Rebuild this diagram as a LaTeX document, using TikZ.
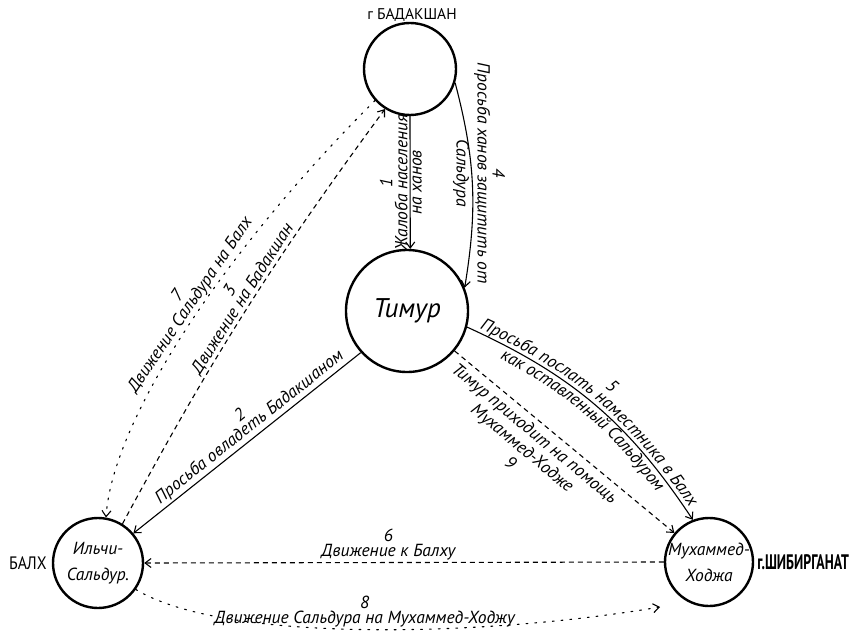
\documentclass[tikz,border=0pt]{standalone}
\usepackage{fontspec}
\setmainfont{PT Sans}
\newfontfamily\ortfont{PT Sans}[FakeStretch=0.88]
\newfontfamily\schmalfont{PT Sans}[FakeStretch=0.66]
\usepackage{tikz}
\usetikzlibrary{arrows.meta, positioning, decorations.text}

\tikzset{
  ort/.style={circle, draw, line width=2.4pt, inner sep=-10pt, align=center,
    font=\itshape\fontsize{17.5}{26}\selectfont},
  beschr/.style={font=\itshape\fontsize{17.5}{15}\selectfont, inner sep=2pt, align=center},
  pfeil/.style={line width=1.1pt, -{Straight Barb[length=6pt,width=9pt]}},
  gestrichelt/.style={pfeil, dash pattern=on 5pt off 4pt},
  gepunktet/.style={pfeil, dash pattern=on 1.8pt off 7pt, line cap=round},
  bogentext/.style={postaction={decorate, decoration={text along path, text align=center,
    raise=#1}}},
}

\begin{document}
\begin{tikzpicture}[x=1pt, y=-1pt]
  \useasboundingbox (0,0) rectangle (859,631);
  % Orte
  \node[ort, minimum size=92pt] (badakhshan) at (410,69) {};
  \node[ort, minimum size=122pt, font=\itshape\fontsize{27}{30}\selectfont] (timur) at (407,311) {Тимур};
  \node[ort, minimum size=90pt] (ilchi) at (98,563) {Ильчи-\\Сальдур.};
  \node[ort, minimum size=88pt] (mukhammed) at (709,562) {Мухаммед-\\Ходжа};
  % Ortsnamen
  \node[font=\fontsize{15.5}{17}\selectfont, inner sep=0pt] (badname) at (412,15) {г БАДАКШАН};
  \node[font=\ortfont\fontsize{18}{20}\selectfont, inner sep=1pt, left=4pt of ilchi] (balkh) {БАЛХ};
  \node[font=\schmalfont\bfseries\fontsize{21}{22}\selectfont, inner sep=1pt, right=2pt of mukhammed] (shibirgan) {г.ШИБИРГАНАТ};
  % 1: Badakshan -> Timur
  \draw[pfeil] (badakhshan.-90) --
    node[beschr, rotate=90, anchor=south, pos=.5] {1\\Жалоба населения}
    node[beschr, rotate=90, anchor=north, pos=.5] {на ханов} (timur.87);
  % 4: Badakshan -> Timur (Bogen)
  \draw[pfeil] (badakhshan.-17) to[bend left=12]
    node[beschr, rotate=-90, anchor=south, pos=.44] {4\\Просьба ханов защитить от}
    node[beschr, rotate=-90, anchor=north, pos=.44] {Сальдура} (timur.22);
  % 2: Timur -> Ильчи
  \draw[pfeil] (timur.222) --
    node[beschr, sloped, above, pos=.46] {2\\Просьба овладеть Бадакшаном} (ilchi.40);
  % 3: Ильчи -> Badakshan
  \draw[gestrichelt] (ilchi.58) to[bend left=4]
    node[beschr, sloped, above, pos=.52, inner sep=1pt] {3\\Движение на Бадакшан} (badakhshan.238);
  % 7: Badakshan -> Ильчи
  \draw[gepunktet] (badakhshan.222) .. controls (218,257) and (112,424) ..
    node[beschr, sloped, above, pos=.45, inner sep=1pt] {7\\Движение Сальдура на Балх} (ilchi.80);
  % 5: Timur -> Мухаммед (Bogen, Text folgt dem Bogen)
  \draw[pfeil] (timur.-15) to[bend left=16]
    node[beschr, sloped, above=17pt, pos=.5] {5} (mukhammed.111);
  \path[bogentext=4pt, decoration={text={|\itshape\fontsize{17.5}{18}\selectfont|Просьба послать наместника в Балх}}]
    (timur.-15) to[bend left=16] (mukhammed.111);
  \path[bogentext=-14pt, decoration={text={|\itshape\fontsize{17.5}{18}\selectfont|как оставленный Сальдуром}}]
    (timur.-15) to[bend left=16] (mukhammed.111);
  % 9: Timur -> Мухаммед
  \draw[gestrichelt] (timur.-40) --
    node[beschr, sloped, below=3pt, pos=.4, font=\itshape\fontsize{17.5}{19}\selectfont] {Тимур приходит на помощь\\Мухаммед-Ходже\\9} (mukhammed.140);
  % 6: Мухаммед -> Ильчи
  \draw[gestrichelt] (mukhammed.180) --
    node[beschr, above, pos=.53] {6\\Движение к Балху} (ilchi.0);
  % 8: Ильчи -> Мухаммед
  \coordinate (ziel8) at (660,607);
  \draw[gepunktet] (ilchi.-35) .. controls (224,643) and (483,637) ..
    node[beschr, above, pos=.5] {8\\Движение Сальдура на Мухаммед-Ходжу} (ziel8);
\end{tikzpicture}
\end{document}
